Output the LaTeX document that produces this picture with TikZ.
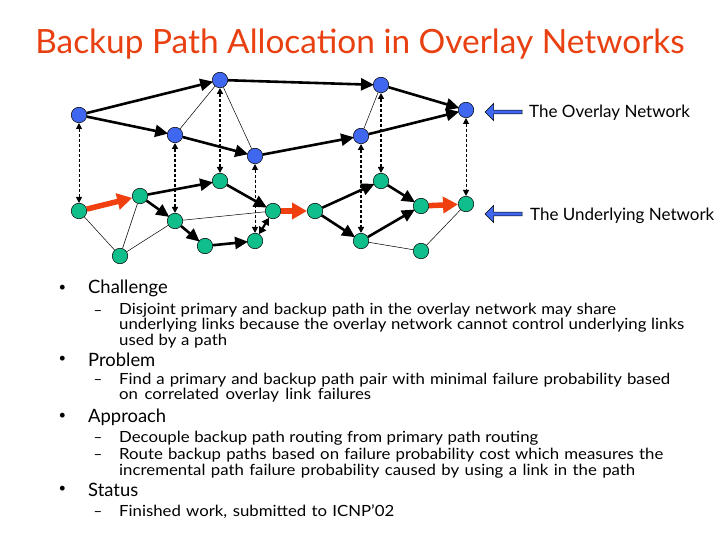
\documentclass[tikz,border=0pt]{standalone}
\usepackage{fontspec}
\setmainfont{Lato}
\newfontfamily\subf[FakeStretch=1.09]{Lato}
\usetikzlibrary{arrows.meta,shapes.arrows}
\definecolor{bluen}{HTML}{3F67F0}
\definecolor{greenn}{HTML}{10BE8C}
\definecolor{orng}{HTML}{F04010}
\definecolor{ttl}{HTML}{E84010}
\newcommand{\subln}[2]{\makebox[#1pt][s]{#2}}
\tikzset{x=1pt,y=-1pt,
 bn/.style={circle,draw=black,line width=.5pt,fill=bluen,minimum size=15.5pt,inner sep=0pt},
 gn/.style={circle,draw=black,line width=.5pt,fill=greenn,minimum size=15.5pt,inner sep=0pt},
 thk/.style={line width=2.6pt,-{Triangle[length=13pt,width=12pt]},shorten >=-1pt},
 thks/.style={line width=2.2pt,{Triangle[length=7pt,width=8pt]}-{Triangle[length=7pt,width=8pt]}},
 thn/.style={line width=.5pt},
 dsh/.style={line width=1pt,{Triangle[length=6pt,width=6pt]}-{Triangle[length=6pt,width=6pt]},dash pattern=on 3pt off 2pt},
 dshb/.style={dsh,line width=1.9pt},
 org/.style={line width=5.5pt,orng,-{Triangle[length=15pt,width=16pt]}},
 bul/.style={anchor=base west,inner sep=0pt,font=\fontsize{18.4}{20}\selectfont},
 sub/.style={anchor=base west,inner sep=0pt,font=\subf\fontsize{15.4}{16}\selectfont},
 lbl/.style={anchor=base west,inner sep=0pt,font=\fontsize{17}{19}\selectfont},
 dot/.style={anchor=base,inner sep=0pt,font=\fontsize{13}{15}\selectfont},
 dashm/.style={anchor=base,inner sep=0pt,font=\fontsize{15}{16}\selectfont},
 barrow/.style={single arrow,draw=black,line width=.5pt,fill=bluen,minimum width=17pt,minimum height=37pt,single arrow head extend=4.5pt,single arrow head indent=0pt,inner sep=1pt,shape border rotate=180}
}
\begin{document}
\begin{tikzpicture}
\useasboundingbox (0,0) rectangle (720,540);
\fill[white] (0,0) rectangle (720,540);
\node[anchor=base,inner sep=0pt,text=ttl,font=\fontsize{33.4}{36}\selectfont] (title) at (360,54) {Backup Path Allocation in Overlay Networks};
% underlying
\foreach \n/\x/\y in {a/79/211,b/140/196,c/120/256,d/175/221,e/220/181,f/205/246,g/255/241,h/273/211,i/315/211,j/381/181,k/361/241,l/421/206,m/466/204,o/421/251}
 \node[gn] (\n) at (\x,\y) {};
\foreach \n/\x/\y in {A/79/115,B/220/80,C/175/135,D/255/156,E/361/136,F/381/85,G/466/110}
 \node[bn] (\n) at (\x,\y) {};
\foreach \p/\q in {A/B,A/C,C/D,B/F,D/E,E/G,F/G,b/e,b/d,e/h,d/f,f/g,i/j,i/k,j/l,k/l}
 \draw[thk] (\p) -- (\q);
\draw[thks] (g) -- (h);
\foreach \p/\q in {B/C,B/D,F/E,a/c,b/c,c/d,d/h,k/o,o/m}
 \draw[thn] (\p) -- (\q);
\foreach \p/\q in {A/a,D/g,G/m}
 \draw[dsh] (\p) -- (\q);
\foreach \p/\q in {C/d,B/e,E/k,F/j}
 \draw[dshb] (\p) -- (\q);
\foreach \p/\q in {a/b,h/i,l/m}
 \draw[org] (\p) -- (\q);
\node[barrow] (ar1) at (504.5,112) {};
\node[barrow] (ar2) at (504.5,214) {};
\node[lbl] (l1) at (529,118) {The Overlay Network};
\node[lbl] (l2) at (530,221) {The Underlying Network};
% body
\foreach \y in {291,362,419,492} \node[dot] at (62.5,\y) {•};
\node[bul] (t1) at (88,293) {Challenge};
\node[bul] (t2) at (88,366) {Problem};
\node[bul] (t3) at (88,422) {Approach};
\node[bul] (t4) at (88,496) {Status};
\foreach \y in {315,384,442,459,516} \node[dashm] at (98,\y) {–};
\node[sub] at (119,314) {\subln{497}{Disjoint primary and backup path in the overlay network may share}};
\node[sub] at (119,329) {\subln{565}{underlying links because the overlay network cannot control underlying links}};
\node[sub] at (119,345) {\subln{108}{used by a path}};
\node[sub] at (119,384) {\subln{551}{Find a primary and backup path pair with minimal failure probability based}};
\node[sub] at (119,399) {\subln{252}{on correlated overlay link failures}};
\node[sub] at (119,442) {\subln{419}{Decouple backup path routing from primary path routing}};
\node[sub] at (119,459) {\subln{544}{Route backup paths based on failure probability cost which measures the}};
\node[sub] at (119,475) {\subln{516}{incremental path failure probability caused by using a link in the path}};
\node[sub] at (119,516) {\subln{275}{Finished work, submitted to ICNP’02}};
\end{tikzpicture}
\end{document}
